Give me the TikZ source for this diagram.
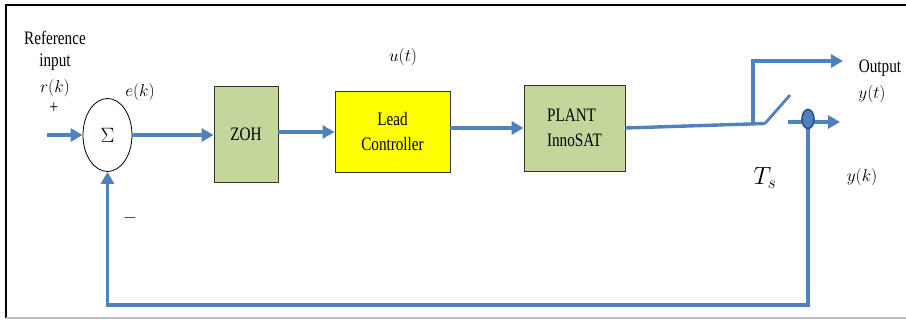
\documentclass[tikz,border=0pt]{standalone}
\usepackage{fontspec}
\setmainfont[FakeStretch=0.8]{Liberation Serif}
\usetikzlibrary{shapes.geometric,arrows.meta}
\definecolor{linkblue}{RGB}{79,129,189}
\definecolor{dotblue}{RGB}{40,80,140}
\definecolor{boxgreen}{RGB}{195,214,155}
\definecolor{boxyellow}{RGB}{255,255,0}
\tikzset{
  txt/.style={inner sep=0pt, font=\fontsize{19}{20}\selectfont},
  mtxt/.style={inner sep=0pt, font=\fontsize{16.5}{18}\selectfont},
  blockbox/.style={draw=black!80, line width=0.9pt, inner sep=0pt, align=center, font=\fontsize{19}{25}\selectfont},
  sig/.style={draw=linkblue, line width=3.4pt},
  sigarrow/.style={sig, -{Triangle[length=12pt,width=13pt]}},
}
\begin{document}
\begin{tikzpicture}[x=1pt,y=-1pt]
\useasboundingbox (0,0) rectangle (906,321);
% frame
\draw[black, line width=1.6pt] (6,318) -- (6,5) -- (906,5);
\draw[black!25, line width=1.2pt] (6,318) -- (906,318);

% blocks
\node[draw=black, line width=0.8pt, ellipse, minimum width=49pt, minimum height=73pt, inner sep=0pt, font=\fontsize{20}{22}\selectfont] (sum) at (107.5,135) {$\Sigma$};
\node[blockbox, fill=boxgreen, minimum width=64pt, minimum height=96pt] (zoh) at (246,134) {ZOH};
\node[blockbox, fill=boxyellow, minimum width=115pt, minimum height=81pt] (lead) at (392.5,132) {Lead\\Controller};
\node[blockbox, fill=boxgreen, minimum width=101pt, minimum height=86pt, align=left] (plant) at (574.5,128) {PLANT\\InnoSAT};

% coordinates
\coordinate (in) at (47,135);
\coordinate (br) at (753,124);
\coordinate (sw) at (765,123.5);
\coordinate (swtop) at (790,95);
\coordinate (out) at (843,61);
\coordinate (ks) at (788,122);
\coordinate (kout) at (840,122);
\coordinate (fb) at (808,305);
\coordinate (dotc) at (808,119);

% connectors
\draw[sigarrow] (in) -- (sum.west);
\draw[sigarrow] (sum.east) -- (sum.east -| zoh.west);
\draw[sigarrow] (zoh.east |- lead.west) -- (lead.west);
\draw[sigarrow] (lead.east |- plant.west) -- (plant.west);
\draw[sig] (plant.east) -- (sw);
\draw[sigarrow] (br) |- (out);
\draw[draw=linkblue, line width=2.8pt] (sw) -- (swtop);
\draw[sigarrow] (ks) -- (kout);
\draw[sigarrow] (dotc) -- (fb) -| (sum.south);
\node[ellipse, draw=dotblue, fill=linkblue, line width=1.6pt, minimum width=12pt, minimum height=19pt, inner sep=0pt] (dot) at (dotc) {};

% labels
\node[txt] (lref) at (55,38) {Reference};
\node[txt] (linp) at (55,62) {input};
\node[mtxt] (lr) at (55,88) {$r(k)$};
\node[txt] (lplus) at (54,108) {+};
\node[mtxt] (le) at (140,92) {$e(k)$};
\node[mtxt] (lminus) at (130,218) {$-$};
\node[mtxt] (lu) at (403,57) {$u(t)$};
\node[txt] (lout) at (880,68) {Output};
\node[mtxt] (lyt) at (872,94) {$y(t)$};
\node[inner sep=0pt, font=\fontsize{25}{27}\selectfont] (lts) at (765,178) {$T_s$};
\node[mtxt] (lyk) at (862,177) {$y(k)$};
\end{tikzpicture}
\end{document}
